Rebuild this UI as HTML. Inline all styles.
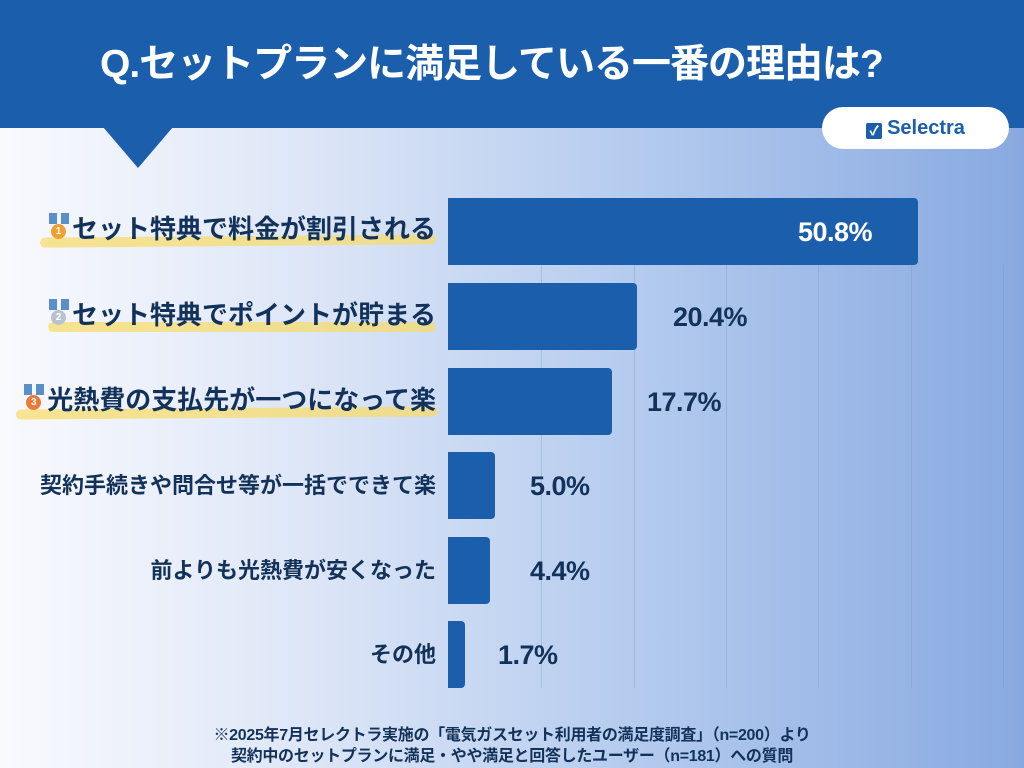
<!DOCTYPE html>
<html><head><meta charset="utf-8">
<style>
*{margin:0;padding:0;box-sizing:border-box}
body{width:1024px;height:768px;overflow:hidden;position:relative;font-family:"Liberation Sans","Noto Sans CJK JP",sans-serif;background:linear-gradient(90deg,#f9fafe 0%,#dde6f7 30%,#b7cdef 60%,#88a9e0 100%)}
.hdr{position:absolute;left:0;top:0;width:1024px;height:128px;background:#1a5eac}
.tri{position:absolute;left:103px;top:127px;width:0;height:0;border-left:35px solid transparent;border-right:35px solid transparent;border-top:41px solid #1a5eac}
.title{position:absolute;left:100px;top:38px;color:#fff;font-size:39px;font-weight:bold;letter-spacing:-1px;line-height:54px;white-space:nowrap}
.logo{position:absolute;left:822px;top:107px;width:187px;height:42px;background:#fff;border-radius:21px;color:#1a5eac;font-weight:bold;font-size:20px;line-height:42px;text-align:center}
.logo b{display:inline-block;width:16px;height:16px;background:#1a5eac;color:#fff;font-size:13px;line-height:16px;vertical-align:-1px;margin-right:5px;border-radius:2px}
.grid{position:absolute;top:265px;height:423px;width:1px;background:rgba(120,150,200,0.35)}
.bar{position:absolute;left:448px;height:67px;background:#1a5eac;border-radius:0 4px 4px 0}
.val{position:absolute;font-size:27px;font-weight:bold;color:#13325a;line-height:30px;letter-spacing:-0.5px}
.lab{position:absolute;right:588px;font-size:22px;font-weight:bold;color:#13325a;white-space:nowrap;line-height:30px}
.big{font-size:26px}
.hl{position:absolute;height:10px;background:rgba(247,220,110,0.75);border-radius:5px}
.med{display:inline-block;position:relative;width:24px;height:28px;vertical-align:-3px;margin-right:1px}
.med i{position:absolute;left:2px;top:0;width:20px;height:11px;border-left:8px solid #5b8fc9;border-right:8px solid #5b8fc9}
.med em{position:absolute;left:4px;top:11px;width:15px;height:15px;border-radius:8px;font-size:10px;color:#fff;text-align:center;line-height:15px;font-style:normal}
.foot{position:absolute;left:0;width:1024px;top:725px;text-align:center;font-size:16px;font-weight:bold;color:#13325a;line-height:21px;letter-spacing:-0.3px}
</style></head><body>
<div class="hdr"></div><div class="tri"></div>
<div class="title">Q.セットプランに満足している一番の理由は?</div>
<div class="logo"><b>✓</b>Selectra</div>

<div class="grid" style="left:541px"></div>
<div class="grid" style="left:634px"></div>
<div class="grid" style="left:726px"></div>
<div class="grid" style="left:818px"></div>
<div class="grid" style="left:911px"></div>
<div class="grid" style="left:1003px"></div>

<div class="bar" style="top:198px;width:470px"></div>
<div class="bar" style="top:283px;width:189px"></div>
<div class="bar" style="top:368px;width:164px"></div>
<div class="bar" style="top:452px;width:47px"></div>
<div class="bar" style="top:537px;width:42px"></div>
<div class="bar" style="top:621px;width:17px"></div>

<div class="val" style="left:798px;top:217px;color:#fff">50.8%</div>
<div class="val" style="left:673px;top:302px">20.4%</div>
<div class="val" style="left:647px;top:387px">17.7%</div>
<div class="val" style="left:530px;top:471px">5.0%</div>
<div class="val" style="left:530px;top:556px">4.4%</div>
<div class="val" style="left:498px;top:640px">1.7%</div>

<div class="hl" style="left:40px;top:236px;width:396px;transform:rotate(-0.5deg)"></div>
<div class="hl" style="left:48px;top:322px;width:388px"></div>
<div class="hl" style="left:16px;top:408px;width:422px;transform:rotate(-0.4deg)"></div>

<div class="lab big" style="top:213px"><span class="med"><i></i><em style="background:#f0a030">1</em></span>セット特典で料金が割引される</div>
<div class="lab big" style="top:299px"><span class="med"><i></i><em style="background:#b9c2cf">2</em></span>セット特典でポイントが貯まる</div>
<div class="lab big" style="top:384px"><span class="med"><i></i><em style="background:#e87a3a">3</em></span>光熱費の支払先が一つになって楽</div>
<div class="lab" style="top:471px">契約手続きや問合せ等が一括でできて楽</div>
<div class="lab" style="top:556px">前よりも光熱費が安くなった</div>
<div class="lab" style="top:640px">その他</div>

<div class="foot">※2025年7月セレクトラ実施の「電気ガスセット利用者の満足度調査」（n=200）より<br>契約中のセットプランに満足・やや満足と回答したユーザー（n=181）への質問</div>
</body></html>
